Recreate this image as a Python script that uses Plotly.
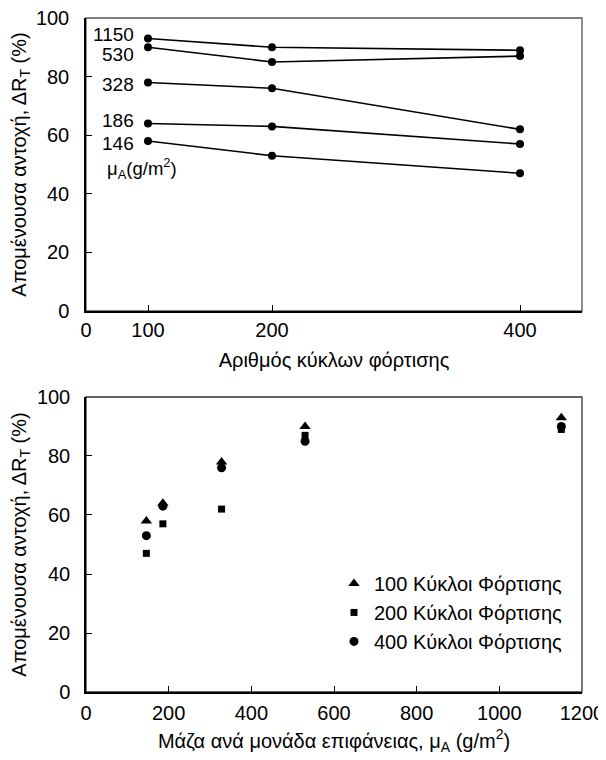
import plotly.graph_objects as go

# ---- data: top chart (retained strength vs loading cycles, per mass/area) ----
cycles = [100, 200, 400]
mass_labels = ["1150", "530", "328", "186", "146"]
r_1150 = [93, 90, 89]
r_530 = [90, 85, 87]
r_328 = [78, 76, 62]
r_186 = [64, 63, 57]
r_146 = [58, 53, 47]
label_y = [94.4, 87.7, 77.2, 65.0, 57.2]

top_xticks = [50, 100, 200, 400]
top_xtext = ["0", "100", "200", "400"]

# ---- data: bottom chart (retained strength vs mass/area, per cycles) ----
mass = [146, 186, 328, 530, 1150]
s100 = [58, 64, 78, 90, 93]
s200 = [47, 57, 62, 87, 89]
s400 = [53, 63, 76, 85, 90]
series_names = ["100 Κύκλοι Φόρτισης", "200 Κύκλοι Φόρτισης", "400 Κύκλοι Φόρτισης"]

FONT = "Liberation Sans, Arial, sans-serif"
FS = 20
fig = go.Figure()

for ys in [r_1150, r_530, r_328, r_186, r_146]:
    fig.add_trace(go.Scatter(x=cycles, y=ys, mode="lines+markers",
                             line=dict(color="black", width=1.6),
                             marker=dict(color="black", size=8, symbol="circle"),
                             showlegend=False, xaxis="x", yaxis="y"))

fig.add_trace(go.Scatter(x=mass, y=s100, mode="markers", name=series_names[0],
                         marker=dict(color="black", size=10, symbol="triangle-up"),
                         xaxis="x2", yaxis="y2"))
fig.add_trace(go.Scatter(x=mass, y=s200, mode="markers", name=series_names[1],
                         marker=dict(color="black", size=7, symbol="square"),
                         xaxis="x2", yaxis="y2"))
fig.add_trace(go.Scatter(x=mass, y=s400, mode="markers", name=series_names[2],
                         marker=dict(color="black", size=9, symbol="circle"),
                         xaxis="x2", yaxis="y2"))

for lab, yv in zip(mass_labels, label_y):
    fig.add_annotation(x=90, y=yv, xref="x", yref="y", text=lab, showarrow=False,
                       xanchor="right", yanchor="middle", font=dict(size=19, family=FONT, color="black"))
fig.add_annotation(x=65, y=48.5, xref="x", yref="y", text="μ<sub>A</sub>(g/m<sup>2</sup>)",
                   showarrow=False, xanchor="left", yanchor="middle",
                   font=dict(size=18.5, family=FONT, color="black"))

ytitle = "Απομένουσα αντοχή, ΔR<sub>T</sub> (%)"
axis_common = dict(showgrid=False, zeroline=False, showline=True, linecolor="black", linewidth=1.5,
                   ticks="inside", ticklen=6, tickcolor="black", tickwidth=1.3, automargin=False,
                   ticklabeloverflow="allow",
                   tickfont=dict(size=FS, family=FONT, color="black"))

# page body has an 8px default margin, so the figure is 8px smaller than the window
fig.update_layout(
    width=598, height=752,
    margin=dict(l=78, r=24, t=10, b=68),
    plot_bgcolor="white", paper_bgcolor="white",
    font=dict(family=FONT, color="black"),
    xaxis=dict(domain=[0, 1], anchor="y", range=[50, 450], tickvals=top_xticks, ticktext=top_xtext,
               title=dict(text="Αριθμός κύκλων φόρτισης", font=dict(size=FS, family=FONT), standoff=13),
               ticklabelstandoff=0, **axis_common),
    yaxis=dict(domain=[0.5653, 1], anchor="x", range=[0, 100], tickvals=[0, 20, 40, 60, 80, 100],
               title=dict(text=ytitle, font=dict(size=FS, family=FONT), standoff=8),
               ticklabelstandoff=11, **axis_common),
    xaxis2=dict(domain=[0, 1], anchor="y2", range=[0, 1200], tickvals=[0, 200, 400, 600, 800, 1000, 1200],
                title=dict(text="Μάζα ανά μονάδα επιφάνειας, μ<sub>A</sub> (g/m<sup>2</sup>)",
                           font=dict(size=FS, family=FONT), standoff=11),
                ticklabelstandoff=2, **axis_common),
    yaxis2=dict(domain=[0, 0.4377], anchor="x2", range=[0, 100], tickvals=[0, 20, 40, 60, 80, 100],
                title=dict(text=ytitle, font=dict(size=FS, family=FONT), standoff=8),
                ticklabelstandoff=10, **axis_common),
    legend=dict(x=0.5, y=0.19, xanchor="left", yanchor="top", bgcolor="rgba(0,0,0,0)",
                font=dict(size=20, family=FONT, color="black"), tracegroupgap=0, itemsizing="trace"),
    shapes=[
        dict(type="rect", xref="x domain", yref="y domain", x0=0, x1=1, y0=0, y1=1,
             line=dict(color="#555555", width=1.3), layer="below"),
        dict(type="rect", xref="x2 domain", yref="y2 domain", x0=0, x1=1, y0=0, y1=1,
             line=dict(color="#333333", width=1.3), layer="below"),
    ],
)

fig.write_html("out.html")
